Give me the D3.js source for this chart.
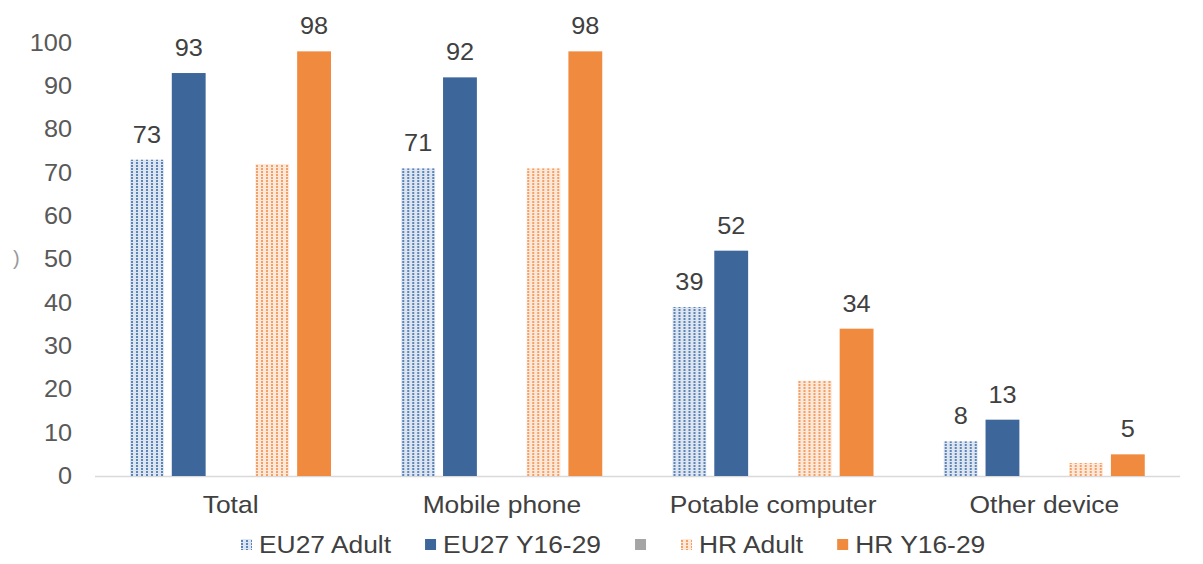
<!DOCTYPE html>
<html><head><meta charset="utf-8">
<script src="https://cdn.jsdelivr.net/npm/d3@7"></script>
<style>html,body{margin:0;padding:0;background:#fff;}svg{display:block;}</style>
</head><body>
<svg id="c" width="1203" height="564"></svg>
<script>
const categories = ["Total", "Mobile phone", "Potable computer", "Other device"];
const seriesNames = ["EU27 Adult", "EU27 Y16-29", "", "HR Adult", "HR Y16-29"];
const eu27Adult = [73, 71, 39, 8];
const eu27Young = [93, 92, 52, 13];
const blankSeries = [null, null, null, null];
const hrAdult = [72, 71, 22, 3];
const hrYoung = [98, 98, 34, 5];
const yTicks = [0, 10, 20, 30, 40, 50, 60, 70, 80, 90, 100];
const labelled = [true, true, false, false, true];

const seriesValues = [eu27Adult, eu27Young, blankSeries, hrAdult, hrYoung];
const fills = ["url(#patBlue)", "#3d679b", "#a5a5a5", "url(#patOrange)", "#f08a3f"];

const svg = d3.select("#c");
const FONT = "'Liberation Sans', Arial, sans-serif";
const SX = 1.1;

// patterns
const defs = svg.append("defs");
function pattern(id, bg, dot) {
  const p = defs.append("pattern").attr("id", id).attr("patternUnits", "userSpaceOnUse")
    .attr("width", 5).attr("height", 3);
  p.append("rect").attr("width", 5).attr("height", 3).attr("fill", bg);
  p.append("rect").attr("x", 1).attr("y", 0).attr("width", 2).attr("height", 2).attr("fill", dot);
}
pattern("patBlue", "#dce5f0", "#5d84b6");
pattern("patOrange", "#fde8da", "#f3a066");

const x0 = d3.scaleBand().domain(categories).range([95, 1180]).paddingInner(0).paddingOuter(0);
const x1 = d3.scaleBand().domain(d3.range(seriesNames.length)).range([35, 236]).paddingInner(0.19).paddingOuter(0);
const y = d3.scaleLinear().domain([0, 100]).range([476, 42.7]);

function txt(g, x, yy, s, size, anchor, fill) {
  return g.append("text")
    .attr("transform", `translate(${x},${yy}) scale(${SX},1)`)
    .attr("text-anchor", anchor)
    .attr("font-family", FONT)
    .attr("font-size", size)
    .attr("fill", fill)
    .text(s);
}

// y tick labels
const yg = svg.append("g");
yTicks.forEach(t => {
  txt(yg, 72, y(t) + 8, String(t), 23, "end", "#595959");
});

// cropped axis title artifact
svg.append("text").attr("x", 13).attr("y", 265).attr("font-family", FONT)
  .attr("font-size", 20).attr("fill", "#9a9a9a").text(")");

// axis line
svg.append("line").attr("x1", 95).attr("x2", 1180).attr("y1", 476.5).attr("y2", 476.5)
  .attr("stroke", "#d9d9d9").attr("stroke-width", 1.5);

// bars
const groups = svg.append("g").selectAll("g").data(categories).join("g")
  .attr("transform", d => `translate(${x0(d)},0)`);

seriesValues.forEach((vals, si) => {
  groups.each(function(cat, ci) {
    const v = vals[ci];
    if (v == null) return;
    const g = d3.select(this);
    g.append("rect")
      .attr("x", x1(si)).attr("width", x1.bandwidth())
      .attr("y", y(v)).attr("height", y(0) - y(v))
      .attr("fill", fills[si]);
    if (labelled[si]) {
      txt(g, x1(si) + x1.bandwidth() / 2, y(v) - 17, String(v), 23, "middle", "#404040");
    }
  });
});

// category labels
const cg = svg.append("g");
categories.forEach(c => {
  txt(cg, x0(c) + x0.bandwidth() / 2, 513, c, 24, "middle", "#404040");
});

// legend
const lg = svg.append("g");
let lx = 241;
seriesNames.forEach((name, i) => {
  lg.append("rect").attr("x", lx).attr("y", 539).attr("width", 11).attr("height", 11)
    .attr("fill", fills[i]);
  if (name) {
    const t = txt(lg, lx + 18, 553, name, 24, "start", "#404040");
    const w = t.node().getComputedTextLength() * SX;
    lx = lx + 18 + w + 34;
  } else {
    lx = lx + 46;
  }
});
</script>
</body></html>
